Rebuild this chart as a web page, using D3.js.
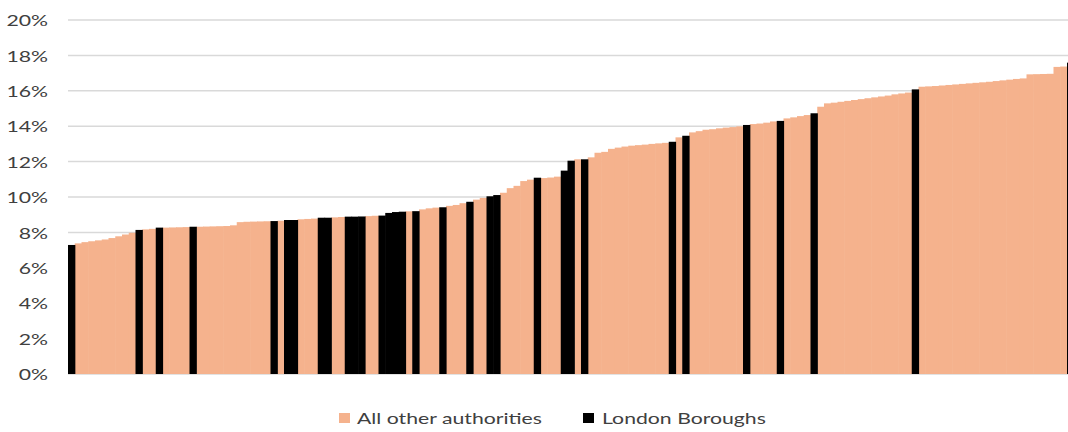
<!DOCTYPE html>
<html>
<head>
<meta charset="utf-8">
<script src="https://cdn.jsdelivr.net/npm/d3@7"></script>
<style>
  html, body { margin: 0; padding: 0; background: #fff; overflow: hidden; }
  svg { display: block; overflow: hidden; }
  text { font-family: Lato, "Open Sans", sans-serif; fill: #404040; }
</style>
</head>
<body>
<svg id="chart" width="1068" height="432"></svg>
<script>
// ---- data (percent), sorted ascending ----
const values = [
  7.29, 7.38, 7.45, 7.50, 7.55, 7.60, 7.68, 7.78, 7.88, 7.98,
  8.14, 8.17, 8.20, 8.27, 8.27, 8.28, 8.29, 8.30, 8.32, 8.32,
  8.33, 8.34, 8.35, 8.36, 8.40, 8.58, 8.60, 8.61, 8.62, 8.63,
  8.64, 8.66, 8.70, 8.70, 8.74, 8.76, 8.78, 8.83, 8.83, 8.85,
  8.87, 8.89, 8.89, 8.90, 8.92, 8.94, 8.95, 9.10, 9.15, 9.17,
  9.19, 9.20, 9.30, 9.36, 9.40, 9.42, 9.50, 9.55, 9.65, 9.73,
  9.85, 9.95, 10.04, 10.11, 10.24, 10.50, 10.63, 10.90, 10.98, 11.09,
  11.07, 11.10, 11.15, 11.49, 12.05, 12.13, 12.13, 12.24, 12.50, 12.55,
  12.72, 12.79, 12.85, 12.90, 12.93, 12.96, 13.00, 13.03, 13.06, 13.12,
  13.37, 13.46, 13.65, 13.72, 13.80, 13.83, 13.88, 13.92, 13.95, 13.99,
  14.07, 14.12, 14.15, 14.20, 14.27, 14.30, 14.44, 14.50, 14.57, 14.63,
  14.73, 15.10, 15.29, 15.33, 15.38, 15.43, 15.48, 15.53, 15.58, 15.63,
  15.68, 15.73, 15.80, 15.85, 15.90, 16.08, 16.23, 16.25, 16.27, 16.30,
  16.33, 16.36, 16.39, 16.42, 16.45, 16.48, 16.51, 16.55, 16.59, 16.63,
  16.67, 16.70, 16.93, 16.94, 16.95, 16.96, 17.35, 17.37, 17.59
];
// positions (in sorted order) of the London Boroughs
const londonIndex = [0, 10, 13, 18, 30, 32, 33, 37, 38, 41, 42, 43, 46, 47, 48, 49,
  51, 55, 59, 62, 63, 69, 73, 74, 76, 89, 91, 100, 105, 110, 125, 148];
const categories = values.map((v, i) => i);
const seriesNames = ["All other authorities", "London Boroughs"];
const seriesColors = ["#F5B28D", "#000000"];
const yTicks = [0, 2, 4, 6, 8, 10, 12, 14, 16, 18, 20];

// ---- build ----
const londonSet = new Set(londonIndex);
const data = categories.map(i => ({ i, v: values[i], s: londonSet.has(i) ? 1 : 0 }));

const svg = d3.select("#chart");
const barW = 6.75;
const x = d3.scaleBand().domain(categories).range([68, 68 + categories.length * barW]).padding(0);
const y = d3.scaleLinear().domain([0, 20]).range([374, 20]);

// gridlines
svg.append("g").selectAll("line").data(yTicks).join("line")
  .attr("x1", 68).attr("x2", 1068)
  .attr("y1", d => y(d)).attr("y2", d => y(d))
  .attr("stroke", "#D9D9D9").attr("stroke-width", 1.5);

// bars: others first, London on top
const bars = svg.append("g");
bars.selectAll("rect.o").data(data.filter(d => d.s === 0)).join("rect")
  .attr("class", "o")
  .attr("x", d => x(d.i)).attr("width", x.bandwidth() + 0.6)
  .attr("y", d => y(d.v)).attr("height", d => y(0) - y(d.v))
  .attr("fill", seriesColors[0]);
bars.selectAll("rect.l").data(data.filter(d => d.s === 1)).join("rect")
  .attr("class", "l")
  .attr("x", d => x(d.i)).attr("width", x.bandwidth() + 0.6)
  .attr("y", d => y(d.v)).attr("height", d => y(0) - y(d.v))
  .attr("fill", seriesColors[1]);

// y axis labels
const yAxis = d3.axisLeft(y).tickValues(yTicks).tickFormat(d => d + "%").tickSize(0).tickPadding(0);
const ga = svg.append("g").attr("transform", "translate(48,0)").call(yAxis);
ga.select(".domain").remove();
ga.selectAll("text").attr("font-size", 16).attr("font-family", "Lato, 'Open Sans', sans-serif")
  .attr("fill", "#404040").attr("dy", "0.35em");

// legend
const legend = svg.append("g");
const legX = [339, 583];
const legTextX = [357, 602];
seriesNames.forEach((name, k) => {
  legend.append("rect").attr("x", legX[k]).attr("y", 413).attr("width", 11).attr("height", 10)
    .attr("fill", seriesColors[k]);
  legend.append("text").attr("x", legTextX[k]).attr("y", 418).attr("dy", "0.35em")
    .attr("font-size", 16).text(name);
});

// horizontal stretch of text to match the reference's wide lettering
const legTexts = legend.selectAll("text").nodes();
const factor = 185 / legTexts[0].getComputedTextLength();
svg.selectAll("text").each(function () {
  const w = this.getComputedTextLength();
  d3.select(this).attr("textLength", w * factor).attr("lengthAdjust", "spacingAndGlyphs");
});
</script>
</body>
</html>
